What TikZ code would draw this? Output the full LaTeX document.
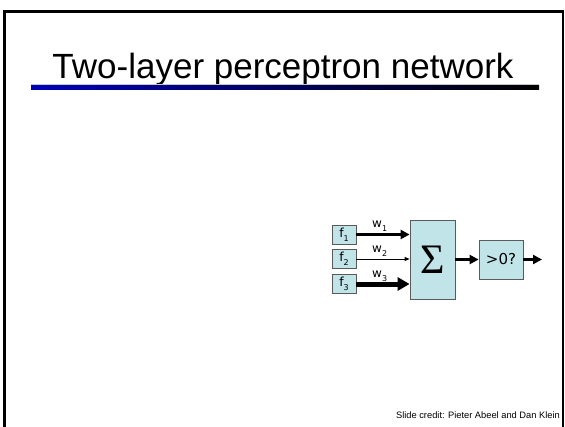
\documentclass[tikz,border=0pt]{standalone}
\usepackage{fontspec}
\setmainfont{Liberation Sans}
\newfontfamily\labelfont{DejaVu Sans}
\newfontfamily\sigmafont{Liberation Serif}
\usetikzlibrary{arrows.meta}
\definecolor{boxfill}{RGB}{192,228,231}
\definecolor{boxline}{RGB}{90,90,90}
\definecolor{barblue}{RGB}{0,0,185}
\newcommand{\lowsub}[1]{\raisebox{-0.35em}{\fontsize{8}{8}\selectfont #1}}
\tikzset{
  unitbox/.style={draw=boxline, fill=boxfill, line width=0.8pt, inner sep=0pt},
  inbox/.style={unitbox, minimum width=24pt, minimum height=19pt, font=\labelfont\fontsize{12.5}{12.5}\selectfont},
  wlabel/.style={anchor=base west, inner sep=0pt, font=\labelfont\fontsize{12}{12}\selectfont},
  feed/.style={draw=black, line width=3pt, -{Triangle[length=9pt,width=9pt]}},
}
\begin{document}
\begin{tikzpicture}[x=1pt,y=-1pt]
\useasboundingbox (0,0) rectangle (565,426);
\fill[white] (0,0) rectangle (565,426);
% slide frame
\draw[line width=3pt] (4.5,430) -- (4.5,11.5) -- (562,11.5);
\draw[line width=2pt] (562.5,10) -- (562.5,430);
% title and rule under it
\node[anchor=base, inner sep=0pt, font=\fontsize{35}{35}\selectfont] (title) at (283,78) {Two-layer perceptron network};
\draw[gray!45, line width=0.8pt] (31,84.6) -- (539,84.6);
\shade[left color=barblue, middle color=barblue!70!black, right color=black] (31,85.5) rectangle (539,89.5);
% inputs
\node[inbox] (f1) at (344,234.5) {f\lowsub{1}};
\node[inbox] (f2) at (344,259) {f\lowsub{2}};
\node[inbox] (f3) at (344,284) {f\lowsub{3}};
% summation and threshold units
\node[unitbox, minimum width=45pt, minimum height=79pt, font=\sigmafont\fontsize{42}{42}\selectfont] (sum) at (432.5,259.5) {Σ};
\node[unitbox, minimum width=44pt, minimum height=39pt, font=\labelfont\fontsize{15}{15}\selectfont] (thr) at (501,259.5) {>0?};
\coordinate (out) at (542,259.5);
% weighted connections
\draw[feed] (f1.east) -- (sum.west |- f1.east);
\draw[draw=black, line width=0.8pt, -{Triangle[length=5pt,width=4pt]}] (f2.east) -- (sum.west |- f2.east);
\draw[draw=black, line width=5pt, -{Triangle[length=12pt,width=13pt]}] (f3.east) -- (sum.west |- f3.east);
\node[wlabel] (w1) at (372,227) {w\lowsub{1}};
\node[wlabel] (w2) at (372,252.5) {w\lowsub{2}};
\node[wlabel] (w3) at (372,277.5) {w\lowsub{3}};
% output path
\draw[feed] (sum.east |- thr.west) -- (thr.west);
\draw[feed] (thr.east) -- (out);
% credit line
\node[anchor=base east, inner sep=0pt, font=\fontsize{9.3}{9.3}\selectfont] (credit) at (560,418) {Slide credit: Pieter Abeel and Dan Klein};
\end{tikzpicture}
\end{document}
